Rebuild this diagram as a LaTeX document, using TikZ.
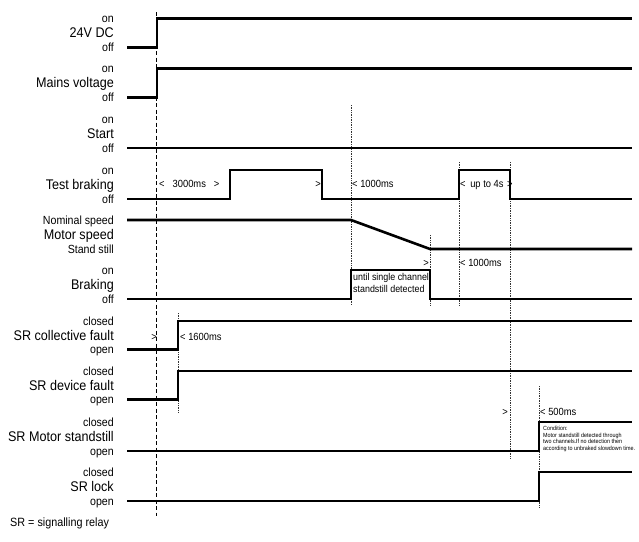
\documentclass[tikz,border=0pt]{standalone}
\usepackage{fontspec}
\setmainfont[FakeStretch=0.9]{Liberation Sans}
\usetikzlibrary{positioning}

\begin{document}
\begin{tikzpicture}[
  x=1pt, y=-1pt,
  level/.style={anchor=base east, inner sep=0pt, font=\fontsize{11.8}{12}\selectfont},
  signame/.style={anchor=base east, inner sep=0pt, font=\fontsize{14}{15}\selectfont},
  timing/.style={anchor=base west, inner sep=0pt, font=\fontsize{10.4}{11}\selectfont},
  tright/.style={timing, anchor=base east},
  note/.style={anchor=north west, inner sep=0pt, align=left},
  wave/.style={line width=2.6pt, line join=miter, line cap=butt},
  guide/.style={densely dotted, line width=0.7pt, draw=black!80},
  origin/.style={dashed, line width=0.7pt, dash pattern=on 4pt off 2.5pt}
]
\useasboundingbox (0,0) rectangle (639,541);

% signal names
\node[level]   (dc_on)    at (114,22.5) {on};
\node[signame] (dc)       at (114,37.5) {24V DC};
\node[level]   (dc_off)   at (114,51)   {off};

\node[level]   (mains_on)  at (114,72.5) {on};
\node[signame] (mains)     at (114,87.5) {Mains voltage};
\node[level]   (mains_off) at (114,101)  {off};

\node[level]   (start_on)  at (114,123.5) {on};
\node[signame] (start)     at (114,138.5) {Start};
\node[level]   (start_off) at (114,152)   {off};

\node[level]   (test_on)   at (114,174.5) {on};
\node[signame] (test)      at (114,189.5) {Test braking};
\node[level]   (test_off)  at (114,203)   {off};

\node[level]   (speed_nom) at (114,224.5) {Nominal speed};
\node[signame] (speed)     at (114,239.5) {Motor speed};
\node[level]   (speed_ss)  at (114,253.5) {Stand still};

\node[level]   (brake_on)  at (114,274.5) {on};
\node[signame] (brake)     at (114,289.5) {Braking};
\node[level]   (brake_off) at (114,303)   {off};

\node[level]   (coll_cl)   at (114,325.5) {closed};
\node[signame] (coll)      at (114,340)   {SR collective fault};
\node[level]   (coll_op)   at (114,353)   {open};

\node[level]   (dev_cl)    at (114,375.5) {closed};
\node[signame] (dev)       at (114,390)   {SR device fault};
\node[level]   (dev_op)    at (114,403)   {open};

\node[level]   (mstand_cl) at (114,426.5) {closed};
\node[signame] (mstand)    at (114,441.5) {SR Motor standstill};
\node[level]   (mstand_op) at (114,455)   {open};

\node[level]   (lock_cl)   at (114,476.5) {closed};
\node[signame] (lock)      at (114,491.5) {SR lock};
\node[level]   (lock_op)   at (114,505)   {open};

\node[anchor=base west, inner sep=0pt, font=\fontsize{12}{13}\selectfont] (legend) at (10,526) {SR = signalling relay};

% reference lines
\draw[origin] (156.5,12) -- (156.5,516);
\draw[guide] (351,105) -- (351,305);
\draw[guide] (430,235) -- (430,305);
\draw[guide] (459,162) -- (459,305);
\draw[guide] (510,162) -- (510,458);
\draw[guide] (178,313) -- (178,412);
\draw[guide] (539,386) -- (539,508);

% waveforms
\draw[wave] (127,47.5) -- (157,47.5) -- (157,18.5) -- (632,18.5);
\draw[wave] (127,97.5) -- (157,97.5) -- (157,68.5) -- (632,68.5);
\draw[wave] (127,148) -- (632,148);
\draw[wave] (127,199) -- (230,199) -- (230,170) -- (322,170) -- (322,199)
  -- (459,199) -- (459,170) -- (510,170) -- (510,199) -- (632,199);
\draw[wave] (127,220) -- (351,220) -- (430,249) -- (632,249);
\draw[wave] (127,299) -- (351,299) -- (351,270) -- (430,270) -- (430,299) -- (632,299);
\draw[wave] (127,349.5) -- (178,349.5) -- (178,321) -- (632,321);
\draw[wave] (127,399.5) -- (178,399.5) -- (178,371) -- (632,371);
\draw[wave] (127,451) -- (539,451) -- (539,422) -- (632,422);
\draw[wave] (127,501) -- (539,501) -- (539,472) -- (632,472);

% timings
\node[timing] (t3000) at (159,187.5) {<\hspace{8pt}3000ms\hspace{8pt}>};
\node[tright] (t3000e) at (321,187.5) {>};
\node[timing] (t1000a) at (352,187.5) {< 1000ms};
\node[timing] (t4s) at (460,187.5) {<\hspace{2pt} up to 4s\hspace{1pt} >};
\node[tright] (t1000s) at (429,266.5) {>};
\node[timing] (t1000b) at (460,266.5) {< 1000ms};
\node[note, font=\fontsize{9.9}{12}\selectfont] (single) at (353,273.5) {until single channel\\standstill detected};
\node[tright] (t1600s) at (157,340) {>};
\node[timing] (t1600) at (180,340) {< 1600ms};
\node[tright] (t500s) at (508,415) {>};
\node[timing] (t500) at (540,415) {< 500ms};
\node[note, font=\fontsize{6}{6.6}\selectfont] (cond) at (543,426)
  {Condition:\\Motor standstill detected through\\two channels.If no detection then\\according to unbraked slowdown time.};
\end{tikzpicture}
\end{document}
